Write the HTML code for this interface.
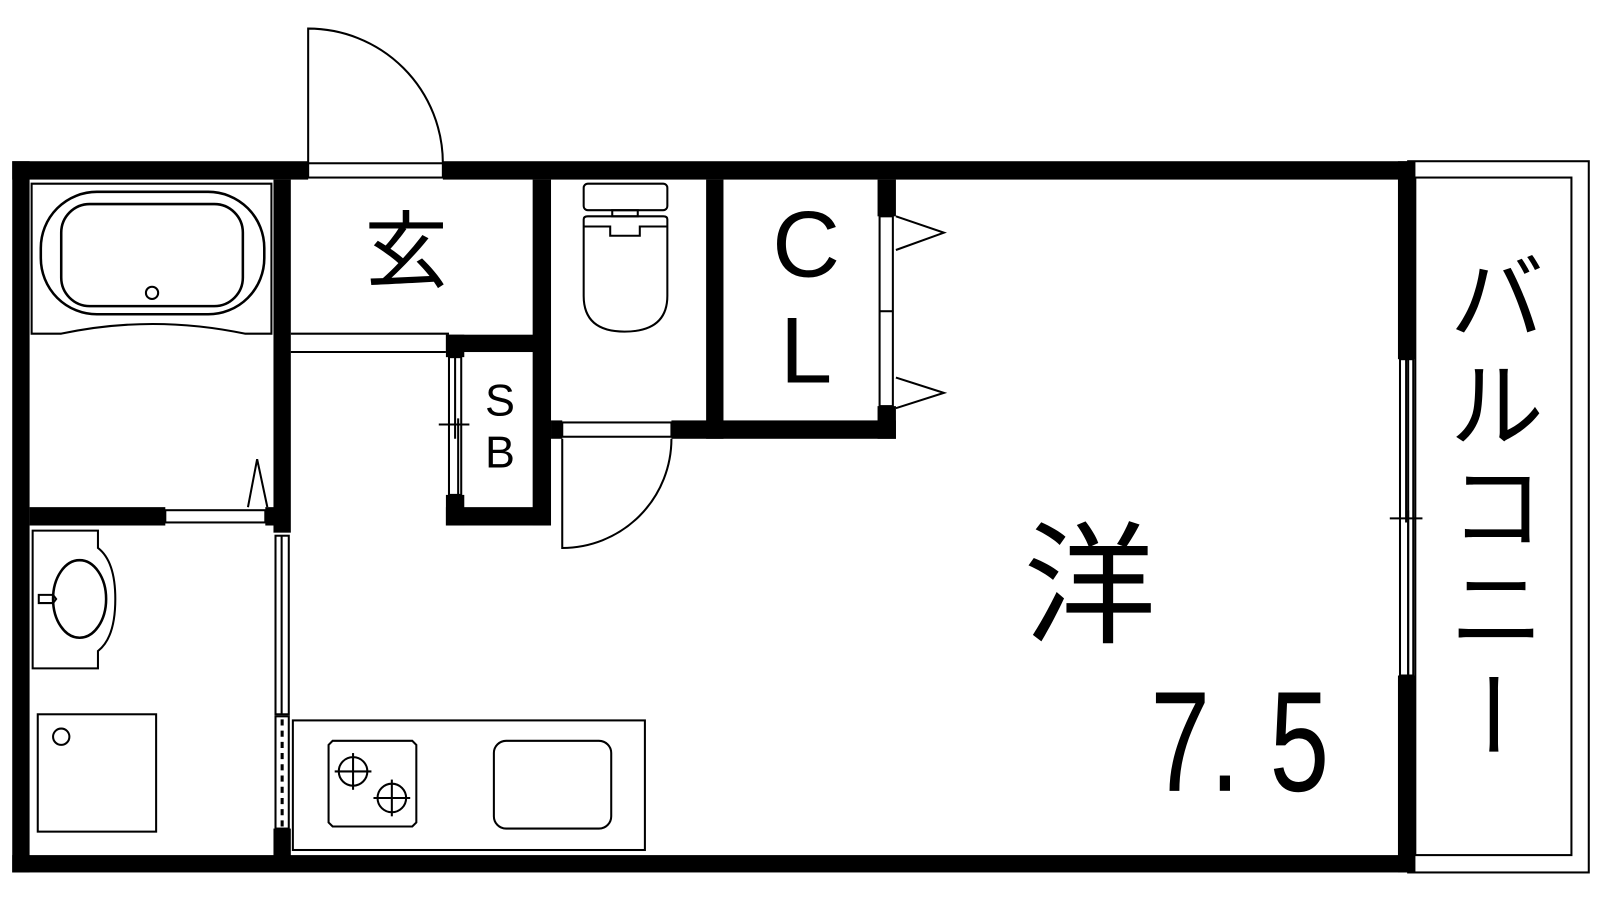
<!DOCTYPE html>
<html><head><meta charset="utf-8"><style>html,body{margin:0;padding:0;background:#fff}svg{display:block}</style></head>
<body>
<svg width="1600" height="900" viewBox="0 0 1568 882" xmlns="http://www.w3.org/2000/svg">
<g fill="none" stroke="#000" stroke-width="2">
<rect x="1380" y="158" width="177" height="697"/>
<rect x="1387" y="174" width="153" height="664"/>
</g>
<g fill="#000">
<rect x="12" y="158" width="290" height="18"/>
<rect x="434" y="158" width="953" height="18"/>
<rect x="12" y="158" width="17" height="697"/>
<rect x="12" y="838" width="1375" height="17"/>
<rect x="1370" y="158" width="17" height="194"/>
<rect x="1370" y="662" width="17" height="193"/>
<rect x="268" y="176" width="17" height="346"/>
<rect x="268" y="812" width="17" height="30"/>
<rect x="29" y="497" width="133" height="18"/>
<rect x="260" y="497" width="10" height="18"/>
<rect x="437" y="328" width="101" height="17"/>
<rect x="437" y="328" width="18" height="22"/>
<rect x="437" y="485" width="18" height="30"/>
<rect x="437" y="497" width="101" height="18"/>
<rect x="522" y="176" width="18" height="339"/>
<rect x="692" y="176" width="17" height="254"/>
<rect x="540" y="412" width="11" height="18"/>
<rect x="658" y="412" width="220" height="18"/>
<rect x="860" y="176" width="18" height="36"/>
<rect x="860" y="398" width="18" height="32"/>
</g>
<g fill="none" stroke="#000" stroke-width="2">
<rect x="302" y="160" width="132" height="14"/>
<path d="M302 160 V28 A132 132 0 0 1 434 160"/>
<rect x="1372" y="352" width="13" height="310"/>
<line x1="1378" y1="352" x2="1378" y2="512"/>
<line x1="1380" y1="500" x2="1380" y2="662"/>
<line x1="1362" y1="508" x2="1394" y2="508"/>
<path d="M31 327 V180 H266 V327 H240 Q149 308 60 327 Z"/>
<rect x="40" y="188" width="219" height="120" rx="55" stroke-width="2.5"/>
<rect x="60" y="200" width="178" height="100" rx="28" stroke-width="2.5"/>
<circle cx="149" cy="287" r="6"/>
<rect x="162" y="500" width="98" height="12"/>
<path d="M243 497 L252 450 L262 497"/>
<line x1="285" y1="327" x2="440" y2="327"/>
<line x1="285" y1="345" x2="437" y2="345"/>
<rect x="440" y="350" width="12" height="135"/>
<line x1="446" y1="350" x2="446" y2="430"/>
<line x1="449" y1="410" x2="449" y2="485"/>
<line x1="430" y1="416" x2="460" y2="416"/>
<rect x="270" y="525" width="13" height="175"/>
<line x1="276" y1="525" x2="276" y2="700"/>
<rect x="270" y="702" width="13" height="110"/>
<line x1="276.5" y1="705" x2="276.5" y2="810" stroke-dasharray="6 5" stroke-width="3"/>
<path d="M32 520 H96 V537 Q113 550 113 587 Q113 625 96 638 V655 H32 Z"/>
<ellipse cx="78" cy="587" rx="26" ry="38" stroke-width="2.5"/>
<path d="M38 583 H52 L55 587 L52 591 H38 Z"/>
<rect x="37" y="700" width="116" height="115"/>
<circle cx="60" cy="722" r="8"/>
<rect x="572" y="180" width="82" height="26" rx="4"/>
<rect x="600" y="206" width="25" height="6"/>
<path d="M572 215 Q572 212 576 212 H650 Q654 212 654 215 V290 Q654 325 612 325 Q572 325 572 290 Z"/>
<path d="M572 222 H598 V231 H627 V222 H654"/>
<rect x="551" y="414" width="107" height="14"/>
<path d="M551 430 V537 A107 107 0 0 0 658 430"/>
<rect x="862" y="212" width="13" height="186"/>
<line x1="862" y1="305" x2="875" y2="305"/>
<path d="M878 212 L925 228 L878 245"/>
<path d="M878 370 L925 385 L878 400"/>
<rect x="287" y="706" width="345" height="127"/>
<path d="M326 726 H404 L408 730 V806 L404 810 H326 L322 806 V730 Z"/>
<circle cx="346" cy="756" r="14"/>
<circle cx="384" cy="782" r="14"/>
<rect x="484" y="726" width="115" height="86" rx="12"/>
</g>
<g stroke="#000" stroke-width="2">
<line x1="346" y1="738" x2="346" y2="774"/><line x1="328" y1="756" x2="364" y2="756"/>
<line x1="384" y1="764" x2="384" y2="800"/><line x1="366" y1="782" x2="402" y2="782"/>
</g>
<g fill="#000" font-family="Liberation Sans, 'Noto Sans CJK JP', sans-serif" text-anchor="middle">
<text x="398" y="275" font-size="82" font-family="'Noto Sans CJK JP', sans-serif">玄</text>
<text x="490" y="407" font-size="44">S</text>
<text x="490" y="458" font-size="44">B</text>
<text x="790" y="271" font-size="92">C</text>
<text x="790" y="375" font-size="92">L</text>
<text x="1068" y="620" font-size="130" font-family="'Noto Sans CJK JP', sans-serif">洋</text>
<text transform="translate(1215,775) scale(0.75,1)" font-size="140" x="0" y="0">7. 5</text>
<g font-family="'Noto Sans CJK JP', sans-serif" font-size="92">
<text x="1467" y="325">バ</text>
<text x="1467" y="430">ル</text>
<text x="1467" y="530">コ</text>
<text x="1467" y="630">ニ</text>
<text x="1467" y="738" transform="rotate(90 1467 700)">ー</text>
</g>
</g>
</svg>
</body></html>
